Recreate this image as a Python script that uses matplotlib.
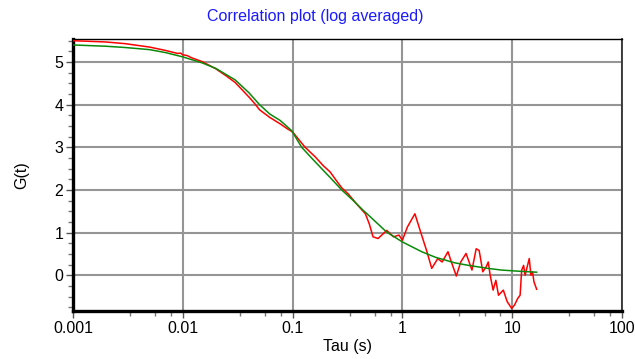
import matplotlib
matplotlib.use("Agg")
import matplotlib.pyplot as plt
import matplotlib.ticker as mticker
import numpy as np

tau_data = [0.001, 0.002, 0.003, 0.005, 0.007, 0.009, 0.0095, 0.01, 0.011, 0.012,
            0.015, 0.02, 0.025, 0.03, 0.04, 0.045, 0.05, 0.062, 0.077, 0.09,
            0.1, 0.13, 0.16, 0.19, 0.22, 0.25, 0.28, 0.32, 0.38, 0.46, 0.5, 0.54,
            0.6, 0.72, 0.83, 0.93, 1.0, 1.11, 1.3, 1.45, 1.66, 1.85,
            2.1, 2.3, 2.6, 2.8, 3.1, 3.4, 3.8, 4.3, 4.7, 5.0,
            5.4, 5.8, 6.05, 6.3, 6.7, 7.1, 7.5, 8.3, 9.0, 9.9,
            10.5, 11.2, 11.8, 12.2, 12.7, 13.1, 14.3, 14.8, 15.3, 15.8, 16.7]
g_data = [5.50, 5.47, 5.43, 5.35, 5.27, 5.20, 5.21, 5.17, 5.15, 5.10,
          5.01, 4.84, 4.67, 4.52, 4.18, 4.03, 3.88, 3.70, 3.55, 3.43,
          3.36, 3.00, 2.78, 2.57, 2.42, 2.22, 2.05, 1.91, 1.68, 1.44, 1.20, 0.90,
          0.86, 1.05, 0.90, 0.94, 0.82, 1.13, 1.44, 1.05, 0.58, 0.16,
          0.39, 0.31, 0.55, 0.30, -0.02, 0.31, 0.51, 0.12, 0.62, 0.58,
          0.08, 0.20, 0.31, 0.00, -0.35, -0.12, -0.47, -0.35, -0.62, -0.78,
          -0.70, -0.55, -0.47, 0.12, 0.23, 0.00, 0.39, 0.00, 0.08, -0.16, -0.33]

# fitted curve (green)
tau_fit = [0.001, 0.002, 0.003, 0.005, 0.007, 0.01, 0.015, 0.02, 0.03, 0.04,
           0.05, 0.062, 0.077, 0.098, 0.121, 0.15, 0.2, 0.22, 0.28, 0.357, 0.44, 0.5,
           0.72, 1.0, 1.5, 2.0, 3.0, 4.0, 6.0, 8.0, 12.0, 16.7]
g_fit = [5.40, 5.37, 5.34, 5.29, 5.22, 5.12, 4.98, 4.85, 4.58, 4.28,
         4.00, 3.78, 3.63, 3.39, 3.00, 2.74, 2.40, 2.29, 2.00, 1.75, 1.52, 1.39,
         1.01, 0.78, 0.55, 0.42, 0.29, 0.23, 0.16, 0.12, 0.09, 0.07]

xticks = [0.001, 0.01, 0.1, 1, 10, 100]
xticklabels = ["0.001", "0.01", "0.1", "1", "10", "100"]
yticks = [0, 1, 2, 3, 4, 5]

plt.rcParams['font.family'] = ['Liberation Sans', 'DejaVu Sans']

fig = plt.figure(figsize=(6.35, 3.59), dpi=100)
ax = fig.add_axes([73 / 635, 1 - 311 / 359, 549 / 635, 272 / 359])

ax.plot(tau_data, g_data, color='#ff0000', lw=1.1, zorder=3)
ax.plot(tau_fit, g_fit, color='#0a8a0a', lw=1.1, zorder=4)

ax.set_xscale('log')
ax.set_xlim(0.001, 100)
ax.set_ylim(-0.84, 5.54)

ax.set_xticks(xticks)
ax.set_xticklabels(xticklabels)
ax.xaxis.set_minor_locator(mticker.LogLocator(base=10, subs=[3.3, 5.6, 7.8]))
ax.xaxis.set_minor_formatter(mticker.NullFormatter())
ax.set_yticks(yticks)
ax.yaxis.set_minor_locator(mticker.MultipleLocator(0.25))

ax.grid(True, which='major', color='#959595', lw=1.5)
ax.set_axisbelow(True)

ax.tick_params(which='major', direction='out', length=5, width=1, color='#555555',
               labelsize=11.5, pad=2)
ax.tick_params(which='minor', direction='out', length=3.5, width=1, color='#777777')

ax.spines['left'].set_linewidth(2.4)
ax.spines['bottom'].set_linewidth(2.4)
ax.spines['top'].set_linewidth(1.0)
ax.spines['right'].set_linewidth(1.3)
ax.spines['right'].set_color('#333333')

ax.set_xlabel("Tau (s)", fontsize=11.5, labelpad=2)
ax.set_ylabel("G(t)", fontsize=11.5, labelpad=18)
fig.text(0.497, 1 - 16 / 359, "Correlation plot (log averaged)", color='#1a1aff',
         fontsize=11.5, ha='center', va='center')

fig.savefig("out.png", dpi=100)
